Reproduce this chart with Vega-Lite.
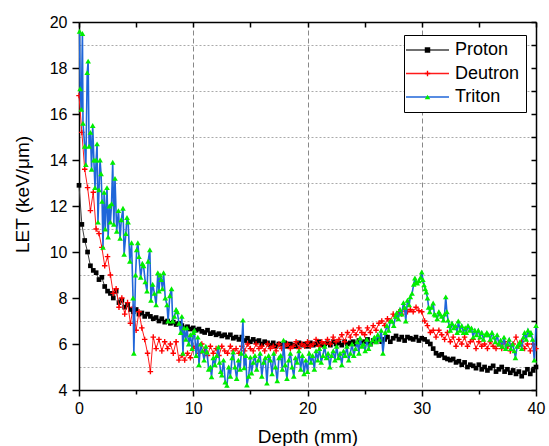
{
"$schema": "https://vega.github.io/schema/vega-lite/v6.json",
"width": 457, "height": 368,
"autosize": {"type": "none"},
"padding": {"left": 79, "top": 22, "right": 13, "bottom": 56},
"background": "white",
"config": {"view": {"stroke": null}, "font": "Liberation Sans"},
"datasets": {
"proton": [
{"d":0,"v":12.9},{"d":0.25,"v":11.2},{"d":0.5,"v":10.5},{"d":0.75,"v":10.0},{"d":1.0,"v":9.4},{"d":1.25,"v":9.2},{"d":1.5,"v":9.1},{"d":1.75,"v":8.8},{"d":2.0,"v":8.9},{"d":2.25,"v":8.5},{"d":2.5,"v":8.3},{"d":2.75,"v":8.2},{"d":3.0,"v":8.0},{"d":3.25,"v":8.3},{"d":3.5,"v":7.8},{"d":3.75,"v":7.9},{"d":4.0,"v":7.6},{"d":4.25,"v":7.7},{"d":4.5,"v":7.5},{"d":4.75,"v":7.4},{"d":5.0,"v":7.5},{"d":5.25,"v":7.3},{"d":5.5,"v":7.35},{"d":5.75,"v":7.2},{"d":6.0,"v":7.3},{"d":6.25,"v":7.2},{"d":6.5,"v":7.1},{"d":6.75,"v":7.15},{"d":7.0,"v":7.0},{"d":7.25,"v":7.1},{"d":7.5,"v":6.95},{"d":7.75,"v":7.0},{"d":8.0,"v":6.9},{"d":8.25,"v":6.95},{"d":8.5,"v":6.85},{"d":8.75,"v":6.9},{"d":9.0,"v":6.8},{"d":9.25,"v":6.7},{"d":9.5,"v":6.75},{"d":9.75,"v":6.65},{"d":10.0,"v":6.7},{"d":10.25,"v":6.6},{"d":10.5,"v":6.65},{"d":10.75,"v":6.55},{"d":11.0,"v":6.5},{"d":11.25,"v":6.6},{"d":11.5,"v":6.45},{"d":11.75,"v":6.5},{"d":12.0,"v":6.4},{"d":12.25,"v":6.45},{"d":12.5,"v":6.35},{"d":12.75,"v":6.4},{"d":13.0,"v":6.3},{"d":13.25,"v":6.4},{"d":13.5,"v":6.25},{"d":13.75,"v":6.3},{"d":14.0,"v":6.2},{"d":14.25,"v":6.3},{"d":14.5,"v":6.15},{"d":14.75,"v":6.25},{"d":15.0,"v":6.1},{"d":15.25,"v":6.2},{"d":15.5,"v":6.1},{"d":15.75,"v":6.15},{"d":16.0,"v":6.0},{"d":16.25,"v":6.1},{"d":16.5,"v":6.05},{"d":16.75,"v":5.95},{"d":17.0,"v":6.05},{"d":17.25,"v":5.9},{"d":17.5,"v":6.0},{"d":17.75,"v":5.95},{"d":18.0,"v":6.05},{"d":18.25,"v":5.9},{"d":18.5,"v":6.0},{"d":18.75,"v":5.95},{"d":19.0,"v":5.9},{"d":19.25,"v":6.05},{"d":19.5,"v":5.95},{"d":19.75,"v":6.0},{"d":20.0,"v":5.9},{"d":20.25,"v":6.05},{"d":20.5,"v":5.95},{"d":20.75,"v":6.0},{"d":21.0,"v":6.1},{"d":21.25,"v":5.95},{"d":21.5,"v":6.0},{"d":21.75,"v":6.05},{"d":22.0,"v":5.95},{"d":22.25,"v":6.1},{"d":22.5,"v":6.0},{"d":22.75,"v":6.05},{"d":23.0,"v":5.95},{"d":23.25,"v":6.1},{"d":23.5,"v":6.0},{"d":23.75,"v":6.05},{"d":24.0,"v":6.1},{"d":24.25,"v":6.0},{"d":24.5,"v":6.15},{"d":24.75,"v":6.05},{"d":25.0,"v":6.1},{"d":25.25,"v":6.2},{"d":25.5,"v":6.0},{"d":25.75,"v":6.15},{"d":26.0,"v":6.1},{"d":26.25,"v":6.25},{"d":26.5,"v":6.1},{"d":26.75,"v":6.2},{"d":27.0,"v":6.3},{"d":27.25,"v":6.1},{"d":27.5,"v":6.25},{"d":27.75,"v":6.35},{"d":28.0,"v":6.2},{"d":28.25,"v":6.3},{"d":28.5,"v":6.15},{"d":28.75,"v":6.3},{"d":29.0,"v":6.25},{"d":29.25,"v":6.2},{"d":29.5,"v":6.3},{"d":29.75,"v":6.15},{"d":30.0,"v":6.25},{"d":30.25,"v":6.2},{"d":30.5,"v":6.1},{"d":30.75,"v":6.0},{"d":31.0,"v":5.8},{"d":31.25,"v":5.6},{"d":31.5,"v":5.5},{"d":31.75,"v":5.55},{"d":32.0,"v":5.4},{"d":32.25,"v":5.35},{"d":32.5,"v":5.3},{"d":32.75,"v":5.35},{"d":33.0,"v":5.2},{"d":33.25,"v":5.25},{"d":33.5,"v":5.1},{"d":33.75,"v":5.2},{"d":34.0,"v":5.0},{"d":34.25,"v":5.1},{"d":34.5,"v":5.05},{"d":34.75,"v":4.95},{"d":35.0,"v":5.1},{"d":35.25,"v":4.9},{"d":35.5,"v":5.0},{"d":35.75,"v":4.85},{"d":36.0,"v":4.95},{"d":36.25,"v":5.05},{"d":36.5,"v":4.8},{"d":36.75,"v":4.9},{"d":37.0,"v":5.0},{"d":37.25,"v":4.8},{"d":37.5,"v":4.9},{"d":37.75,"v":4.75},{"d":38.0,"v":4.85},{"d":38.25,"v":4.7},{"d":38.5,"v":4.8},{"d":38.75,"v":4.6},{"d":39.0,"v":4.75},{"d":39.25,"v":4.9},{"d":39.5,"v":4.7},{"d":39.75,"v":4.85},{"d":40.0,"v":5.0}
],
"deutron": [
{"d":0,"v":16.8},{"d":0.25,"v":15.2},{"d":0.5,"v":13.6},{"d":0.75,"v":12.8},{"d":1.0,"v":11.8},{"d":1.25,"v":12.6},{"d":1.5,"v":11.0},{"d":1.75,"v":10.8},{"d":2.0,"v":10.2},{"d":2.25,"v":9.4},{"d":2.5,"v":9.8},{"d":2.75,"v":9.0},{"d":3.0,"v":8.2},{"d":3.25,"v":8.4},{"d":3.5,"v":7.6},{"d":3.75,"v":8.0},{"d":4.0,"v":7.3},{"d":4.25,"v":7.8},{"d":4.5,"v":6.9},{"d":4.75,"v":7.6},{"d":5.0,"v":6.6},{"d":5.25,"v":7.4},{"d":5.5,"v":6.7},{"d":5.75,"v":6.2},{"d":6.0,"v":5.6},{"d":6.25,"v":4.8},{"d":6.5,"v":6.3},{"d":6.75,"v":5.8},{"d":7.0,"v":6.2},{"d":7.25,"v":5.7},{"d":7.5,"v":6.1},{"d":7.75,"v":5.8},{"d":8.0,"v":6.0},{"d":8.25,"v":5.6},{"d":8.5,"v":6.1},{"d":8.75,"v":5.3},{"d":9.0,"v":5.5},{"d":9.25,"v":5.3},{"d":9.5,"v":5.6},{"d":9.75,"v":5.4},{"d":10.0,"v":5.8},{"d":10.25,"v":5.9},{"d":10.5,"v":5.6},{"d":10.75,"v":6.0},{"d":11.0,"v":5.7},{"d":11.25,"v":5.5},{"d":11.5,"v":5.9},{"d":11.75,"v":5.6},{"d":12.0,"v":5.8},{"d":12.25,"v":5.5},{"d":12.5,"v":5.9},{"d":12.75,"v":5.7},{"d":13.0,"v":5.6},{"d":13.25,"v":5.9},{"d":13.5,"v":5.7},{"d":13.75,"v":5.8},{"d":14.0,"v":5.6},{"d":14.25,"v":5.9},{"d":14.5,"v":5.7},{"d":14.75,"v":6.0},{"d":15.0,"v":5.8},{"d":15.25,"v":5.7},{"d":15.5,"v":6.0},{"d":15.75,"v":5.8},{"d":16.0,"v":5.9},{"d":16.25,"v":5.7},{"d":16.5,"v":6.0},{"d":16.75,"v":5.8},{"d":17.0,"v":5.9},{"d":17.25,"v":5.7},{"d":17.5,"v":6.0},{"d":17.75,"v":5.8},{"d":18.0,"v":5.9},{"d":18.25,"v":6.0},{"d":18.5,"v":5.8},{"d":18.75,"v":5.9},{"d":19.0,"v":6.1},{"d":19.25,"v":5.8},{"d":19.5,"v":6.0},{"d":19.75,"v":5.9},{"d":20.0,"v":6.1},{"d":20.25,"v":5.9},{"d":20.5,"v":6.0},{"d":20.75,"v":6.2},{"d":21.0,"v":5.9},{"d":21.25,"v":6.1},{"d":21.5,"v":6.0},{"d":21.75,"v":6.2},{"d":22.0,"v":6.0},{"d":22.25,"v":6.3},{"d":22.5,"v":6.1},{"d":22.75,"v":6.2},{"d":23.0,"v":6.4},{"d":23.25,"v":6.1},{"d":23.5,"v":6.5},{"d":23.75,"v":6.3},{"d":24.0,"v":6.6},{"d":24.25,"v":6.4},{"d":24.5,"v":6.7},{"d":24.75,"v":6.5},{"d":25.0,"v":6.4},{"d":25.25,"v":6.7},{"d":25.5,"v":6.5},{"d":25.75,"v":6.8},{"d":26.0,"v":6.6},{"d":26.25,"v":6.9},{"d":26.5,"v":7.0},{"d":26.75,"v":6.8},{"d":27.0,"v":7.1},{"d":27.25,"v":7.0},{"d":27.5,"v":7.3},{"d":27.75,"v":7.2},{"d":28.0,"v":7.4},{"d":28.25,"v":7.3},{"d":28.5,"v":7.5},{"d":28.75,"v":7.4},{"d":29.0,"v":7.5},{"d":29.25,"v":7.4},{"d":29.5,"v":7.6},{"d":29.75,"v":7.45},{"d":30.0,"v":7.4},{"d":30.25,"v":7.0},{"d":30.5,"v":6.8},{"d":30.75,"v":6.5},{"d":31.0,"v":6.6},{"d":31.25,"v":6.3},{"d":31.5,"v":6.6},{"d":31.75,"v":6.4},{"d":32.0,"v":6.2},{"d":32.25,"v":6.5},{"d":32.5,"v":6.1},{"d":32.75,"v":6.3},{"d":33.0,"v":5.9},{"d":33.25,"v":6.2},{"d":33.5,"v":6.0},{"d":33.75,"v":6.3},{"d":34.0,"v":5.9},{"d":34.25,"v":6.1},{"d":34.5,"v":6.2},{"d":34.75,"v":5.8},{"d":35.0,"v":6.1},{"d":35.25,"v":5.9},{"d":35.5,"v":6.0},{"d":35.75,"v":5.8},{"d":36.0,"v":6.1},{"d":36.25,"v":5.9},{"d":36.5,"v":5.8},{"d":36.75,"v":6.0},{"d":37.0,"v":5.8},{"d":37.25,"v":6.1},{"d":37.5,"v":5.9},{"d":37.75,"v":5.7},{"d":38.0,"v":6.0},{"d":38.25,"v":6.3},{"d":38.5,"v":5.9},{"d":38.75,"v":6.1},{"d":39.0,"v":5.8},{"d":39.25,"v":6.0},{"d":39.5,"v":5.7},{"d":39.75,"v":6.0},{"d":40.0,"v":5.8}
],
"triton": [
{"d":0.05,"v":19.6},{"d":0.1,"v":17.1},{"d":0.2,"v":16.2},{"d":0.3,"v":19.5},{"d":0.35,"v":15.6},{"d":0.5,"v":14.6},{"d":0.6,"v":13.8},{"d":0.72,"v":17.8},{"d":0.8,"v":18.3},{"d":0.88,"v":14.6},{"d":1.0,"v":15.2},{"d":1.1,"v":13.6},{"d":1.2,"v":15.5},{"d":1.3,"v":14.0},{"d":1.4,"v":12.8},{"d":1.5,"v":14.0},{"d":1.58,"v":14.7},{"d":1.66,"v":11.3},{"d":1.75,"v":12.7},{"d":1.84,"v":14.0},{"d":1.93,"v":13.4},{"d":2.02,"v":12.2},{"d":2.1,"v":10.2},{"d":2.2,"v":12.6},{"d":2.3,"v":11.0},{"d":2.45,"v":12.8},{"d":2.55,"v":10.65},{"d":2.65,"v":12.0},{"d":2.75,"v":11.3},{"d":2.85,"v":12.1},{"d":2.95,"v":13.9},{"d":3.05,"v":11.2},{"d":3.15,"v":13.2},{"d":3.3,"v":10.9},{"d":3.45,"v":11.8},{"d":3.6,"v":10.6},{"d":3.7,"v":11.4},{"d":3.85,"v":11.9},{"d":3.95,"v":9.9},{"d":4.1,"v":10.8},{"d":4.2,"v":11.5},{"d":4.3,"v":11.3},{"d":4.45,"v":9.6},{"d":4.6,"v":10.4},{"d":4.73,"v":8.0},{"d":4.8,"v":5.6},{"d":4.95,"v":9.0},{"d":5.05,"v":10.1},{"d":5.15,"v":10.4},{"d":5.25,"v":9.8},{"d":5.4,"v":8.9},{"d":5.55,"v":9.5},{"d":5.65,"v":9.4},{"d":5.8,"v":8.7},{"d":5.95,"v":8.3},{"d":6.05,"v":9.6},{"d":6.2,"v":10.1},{"d":6.3,"v":7.9},{"d":6.45,"v":8.6},{"d":6.6,"v":8.2},{"d":6.75,"v":7.7},{"d":6.9,"v":9.1},{"d":7.0,"v":8.3},{"d":7.1,"v":9.0},{"d":7.2,"v":8.8},{"d":7.3,"v":8.4},{"d":7.4,"v":9.1},{"d":7.55,"v":8.0},{"d":7.7,"v":7.7},{"d":7.8,"v":7.0},{"d":7.95,"v":8.1},{"d":8.1,"v":8.4},{"d":8.2,"v":7.0},{"d":8.35,"v":7.2},{"d":8.5,"v":7.5},{"d":8.6,"v":7.4},{"d":8.75,"v":6.9},{"d":8.9,"v":6.5},{"d":9.0,"v":7.2},{"d":9.1,"v":5.6},{"d":9.2,"v":6.7},{"d":9.35,"v":6.2},{"d":9.45,"v":6.7},{"d":9.6,"v":6.0},{"d":9.75,"v":6.4},{"d":9.9,"v":5.8},{"d":10.0,"v":6.5},{"d":10.1,"v":6.6},{"d":10.25,"v":5.5},{"d":10.4,"v":6.3},{"d":10.5,"v":5.1},{"d":10.65,"v":6.0},{"d":10.8,"v":5.7},{"d":10.95,"v":5.3},{"d":11.1,"v":5.9},{"d":11.2,"v":5.65},{"d":11.35,"v":4.9},{"d":11.5,"v":5.0},{"d":11.6,"v":4.57},{"d":11.75,"v":5.4},{"d":11.9,"v":5.1},{"d":12.05,"v":5.5},{"d":12.2,"v":5.87},{"d":12.3,"v":5.2},{"d":12.4,"v":4.8},{"d":12.5,"v":4.65},{"d":12.65,"v":5.3},{"d":12.8,"v":4.35},{"d":12.95,"v":4.2},{"d":13.1,"v":5.0},{"d":13.25,"v":4.6},{"d":13.4,"v":5.4},{"d":13.5,"v":5.65},{"d":13.65,"v":5.0},{"d":13.8,"v":4.5},{"d":13.95,"v":5.3},{"d":14.1,"v":4.9},{"d":14.2,"v":5.6},{"d":14.35,"v":7.04},{"d":14.45,"v":4.96},{"d":14.6,"v":5.5},{"d":14.7,"v":4.22},{"d":14.85,"v":4.6},{"d":15.0,"v":5.43},{"d":15.1,"v":4.74},{"d":15.25,"v":5.2},{"d":15.4,"v":5.5},{"d":15.55,"v":4.9},{"d":15.7,"v":5.3},{"d":15.85,"v":5.6},{"d":16.0,"v":4.6},{"d":16.15,"v":5.2},{"d":16.3,"v":5.4},{"d":16.45,"v":4.3},{"d":16.6,"v":5.5},{"d":16.75,"v":5.3},{"d":16.9,"v":4.7},{"d":17.05,"v":5.6},{"d":17.2,"v":5.0},{"d":17.35,"v":4.4},{"d":17.5,"v":5.4},{"d":17.65,"v":5.5},{"d":17.8,"v":4.9},{"d":17.9,"v":6.17},{"d":18.05,"v":5.1},{"d":18.2,"v":4.5},{"d":18.35,"v":5.3},{"d":18.5,"v":5.6},{"d":18.65,"v":5.0},{"d":18.8,"v":4.6},{"d":18.95,"v":5.4},{"d":19.1,"v":5.2},{"d":19.25,"v":5.7},{"d":19.4,"v":4.9},{"d":19.55,"v":5.5},{"d":19.7,"v":4.7},{"d":19.85,"v":5.3},{"d":20.0,"v":4.8},{"d":20.15,"v":5.6},{"d":20.3,"v":5.2},{"d":20.45,"v":5.5},{"d":20.6,"v":4.9},{"d":20.75,"v":5.7},{"d":20.9,"v":5.3},{"d":21.05,"v":5.8},{"d":21.2,"v":5.2},{"d":21.35,"v":5.5},{"d":21.5,"v":5.9},{"d":21.65,"v":5.4},{"d":21.8,"v":5.6},{"d":21.95,"v":5.0},{"d":22.1,"v":5.5},{"d":22.25,"v":5.7},{"d":22.4,"v":5.3},{"d":22.55,"v":5.9},{"d":22.7,"v":5.4},{"d":22.85,"v":5.6},{"d":23.0,"v":5.1},{"d":23.15,"v":5.7},{"d":23.3,"v":5.5},{"d":23.45,"v":5.9},{"d":23.6,"v":5.3},{"d":23.75,"v":5.6},{"d":23.9,"v":6.0},{"d":24.05,"v":5.5},{"d":24.2,"v":5.8},{"d":24.35,"v":6.1},{"d":24.5,"v":5.6},{"d":24.6,"v":6.26},{"d":24.75,"v":5.9},{"d":24.9,"v":6.0},{"d":25.05,"v":5.7},{"d":25.2,"v":6.2},{"d":25.35,"v":5.8},{"d":25.5,"v":6.0},{"d":25.7,"v":6.17},{"d":25.85,"v":6.3},{"d":26.0,"v":6.1},{"d":26.15,"v":6.4},{"d":26.3,"v":6.2},{"d":26.45,"v":6.6},{"d":26.6,"v":5.6},{"d":26.8,"v":6.5},{"d":26.95,"v":6.8},{"d":27.1,"v":6.6},{"d":27.25,"v":7.0},{"d":27.4,"v":7.0},{"d":27.55,"v":6.8},{"d":27.7,"v":7.2},{"d":27.8,"v":7.35},{"d":27.95,"v":7.1},{"d":28.1,"v":7.5},{"d":28.25,"v":7.3},{"d":28.4,"v":7.8},{"d":28.5,"v":7.6},{"d":28.6,"v":7.0},{"d":28.75,"v":7.9},{"d":28.9,"v":7.7},{"d":29.0,"v":8.05},{"d":29.15,"v":8.2},{"d":29.3,"v":8.6},{"d":29.4,"v":8.87},{"d":29.5,"v":8.7},{"d":29.6,"v":8.65},{"d":29.75,"v":8.75},{"d":29.9,"v":8.9},{"d":30.0,"v":9.13},{"d":30.1,"v":8.8},{"d":30.2,"v":8.57},{"d":30.3,"v":8.4},{"d":30.4,"v":8.26},{"d":30.5,"v":8.0},{"d":30.6,"v":7.6},{"d":30.7,"v":7.4},{"d":30.85,"v":7.6},{"d":31.0,"v":7.78},{"d":31.1,"v":7.3},{"d":31.2,"v":7.26},{"d":31.35,"v":7.1},{"d":31.5,"v":7.4},{"d":31.6,"v":7.3},{"d":31.75,"v":7.2},{"d":31.9,"v":7.04},{"d":32.0,"v":7.3},{"d":32.1,"v":8.05},{"d":32.2,"v":7.4},{"d":32.3,"v":7.04},{"d":32.4,"v":6.8},{"d":32.5,"v":6.6},{"d":32.65,"v":6.9},{"d":32.8,"v":6.7},{"d":32.95,"v":6.8},{"d":33.1,"v":6.5},{"d":33.2,"v":7.0},{"d":33.35,"v":6.6},{"d":33.5,"v":6.8},{"d":33.65,"v":6.5},{"d":33.8,"v":6.7},{"d":33.9,"v":6.5},{"d":34.05,"v":6.8},{"d":34.2,"v":6.6},{"d":34.35,"v":6.7},{"d":34.5,"v":6.3},{"d":34.65,"v":6.6},{"d":34.8,"v":6.4},{"d":34.95,"v":6.6},{"d":35.1,"v":6.3},{"d":35.25,"v":6.5},{"d":35.4,"v":6.2},{"d":35.55,"v":6.4},{"d":35.7,"v":6.5},{"d":35.85,"v":6.4},{"d":36.0,"v":6.2},{"d":36.15,"v":6.5},{"d":36.3,"v":6.3},{"d":36.45,"v":6.1},{"d":36.6,"v":6.4},{"d":36.75,"v":6.0},{"d":36.9,"v":6.17},{"d":37.05,"v":5.9},{"d":37.2,"v":6.3},{"d":37.35,"v":5.8},{"d":37.5,"v":6.0},{"d":37.65,"v":6.2},{"d":37.8,"v":5.8},{"d":37.95,"v":6.0},{"d":38.1,"v":5.7},{"d":38.2,"v":5.4},{"d":38.35,"v":5.9},{"d":38.5,"v":6.0},{"d":38.6,"v":6.1},{"d":38.75,"v":5.8},{"d":38.9,"v":6.3},{"d":39.0,"v":6.5},{"d":39.15,"v":6.2},{"d":39.3,"v":6.6},{"d":39.45,"v":6.4},{"d":39.55,"v":6.5},{"d":39.7,"v":6.2},{"d":39.85,"v":5.3},{"d":40.0,"v":6.8}
]
},
"layer": [
{
"data": {"name": "proton"},
"mark": {"type": "line", "strokeWidth": 1},
"encoding": {
"x": {"field": "d", "type": "quantitative", "scale": {"domain": [0, 40], "nice": false, "zero": false},
 "axis": {"orient": "bottom", "values": [0, 10, 20, 30, 40], "title": "Depth (mm)", "grid": false, "domainColor": "black", "domainWidth": 1.5, "tickColor": "black", "tickWidth": 1.5, "tickSize": 6, "labelFont": "Liberation Sans", "labelFontSize": 16, "labelColor": "black", "labelPadding": 4, "labelFlush": false, "labelOverlap": false, "titleFont": "Liberation Sans", "titleFontSize": 19, "titleFontWeight": "normal", "titleColor": "black", "titlePadding": 11}},
"y": {"field": "v", "type": "quantitative", "scale": {"domain": [4, 20], "nice": false, "zero": false},
 "axis": {"orient": "left", "values": [4, 6, 8, 10, 12, 14, 16, 18, 20], "title": "LET (keV/μm)", "grid": false, "domainColor": "black", "domainWidth": 1.5, "tickColor": "black", "tickWidth": 1.5, "tickSize": 7, "labelFont": "Liberation Sans", "labelFontSize": 16, "labelColor": "black", "labelPadding": 5, "labelFlush": false, "labelOverlap": false, "titleFont": "Liberation Sans", "titleFontSize": 19, "titleFontWeight": "normal", "titleColor": "black", "titleX": -57, "titleY": 172, "titleBaseline": "middle", "titleAngle": 270}},
"stroke": {"datum": "Proton", "type": "nominal",
 "scale": {"domain": ["Proton", "Deutron", "Triton", "zz"], "range": ["#404040", "#ff1a1a", "#1f66d9", "#000000"]},
 "legend": {"orient": "none", "legendX": 325, "legendY": 13, "title": null, "padding": 6, "strokeColor": "black", "fillColor": "white", "zindex": 1, "symbolType": "M-4.3,0H4.3", "symbolSize": 100, "symbolStrokeWidth": 1.5, "symbolOffset": 8.5, "labelOffset": 18.5, "labelFont": "Liberation Sans", "labelFontSize": 18, "labelColor": "black", "rowPadding": 5.5, "values": ["Proton", "Deutron", "Triton"], "labelExpr": "datum.label + '\u00a0\u00a0'"}}
}
},
{
"data": {"name": "proton"},
"mark": {"type": "point", "filled": true, "size": 22, "strokeWidth": 0, "opacity": 1},
"encoding": {
"x": {"field": "d", "type": "quantitative", "axis": {"orient": "top", "values": [0, 5, 10, 15, 20, 25, 30, 35, 40], "labels": false, "title": null, "grid": false, "domainColor": "black", "domainWidth": 1.5, "tickColor": "black", "tickWidth": 1.5, "tickSize": -5}},
"y": {"field": "v", "type": "quantitative", "axis": {"orient": "right", "values": [4, 5, 6, 7, 8, 9, 10, 11, 12, 13, 14, 15, 16, 17, 18, 19, 20], "labels": false, "title": null, "grid": false, "domainColor": "black", "domainWidth": 1.5, "tickColor": "black", "tickWidth": 1.5, "tickSize": -5}},
"fill": {"datum": "Proton", "type": "nominal",
 "scale": {"domain": ["Proton", "Deutron", "Triton"], "range": ["#000000", "#ff0000", "#00ee00"]},
 "legend": {"orient": "none", "legendX": 325, "legendY": 13, "title": null, "padding": 6, "zindex": 2, "symbolSize": 30, "symbolStrokeWidth": 0, "symbolOffset": 8.5, "labelOffset": 18.5, "labelFont": "Liberation Sans", "labelFontSize": 18, "labelOpacity": 0, "rowPadding": 5.5, "labelExpr": "datum.label + '\u00a0\u00a0'"}},
"shape": {"datum": "Proton", "type": "nominal",
 "scale": {"domain": ["Proton", "Deutron", "Triton"], "range": ["square", "M-1,-0.25H-0.25V-1H0.25V-0.25H1V0.25H0.25V1H-0.25V0.25H-1Z", "triangle-up"]},
 "legend": {"orient": "none", "legendX": 325, "legendY": 13, "title": null, "padding": 6, "zindex": 2, "symbolSize": 30, "symbolStrokeWidth": 0, "symbolOffset": 8.5, "labelOffset": 18.5, "labelFont": "Liberation Sans", "labelFontSize": 18, "labelOpacity": 0, "rowPadding": 5.5, "labelExpr": "datum.label + '\u00a0\u00a0'"}}
}
},
{
"data": {"name": "deutron"},
"mark": {"type": "line", "strokeWidth": 1},
"encoding": {
"x": {"field": "d", "type": "quantitative", "axis": {"orient": "bottom", "values": [5, 15, 25, 35], "labels": false, "title": null, "grid": false, "domain": false, "tickColor": "black", "tickWidth": 1.5, "tickSize": 4}},
"y": {"field": "v", "type": "quantitative", "axis": {"orient": "left", "values": [5, 7, 9, 11, 13, 15, 17, 19], "labels": false, "title": null, "domain": false, "ticks": false, "grid": true, "gridColor": "#aaaaaa", "gridDash": [2, 2], "gridWidth": 1}},
"stroke": {"datum": "Deutron", "type": "nominal"}
}
},
{
"data": {"name": "deutron"},
"mark": {"type": "point", "filled": true, "size": 30, "strokeWidth": 0, "opacity": 1},
"encoding": {
"x": {"field": "d", "type": "quantitative", "axis": {"orient": "bottom", "values": [10, 20, 30], "labels": false, "title": null, "domain": false, "ticks": false, "grid": true, "gridColor": "#888888", "gridDash": [5, 3], "gridWidth": 1}},
"y": {"field": "v", "type": "quantitative", "axis": null},
"fill": {"datum": "Deutron", "type": "nominal"},
"shape": {"datum": "Deutron", "type": "nominal"}
}
},
{
"data": {"name": "triton"},
"mark": {"type": "line", "strokeWidth": 1.6},
"encoding": {
"x": {"field": "d", "type": "quantitative", "axis": null},
"y": {"field": "v", "type": "quantitative", "axis": null},
"stroke": {"datum": "Triton", "type": "nominal"}
}
},
{
"data": {"name": "triton"},
"mark": {"type": "point", "filled": true, "size": 32, "strokeWidth": 0, "opacity": 1},
"encoding": {
"x": {"field": "d", "type": "quantitative", "axis": null},
"y": {"field": "v", "type": "quantitative", "axis": null},
"fill": {"datum": "Triton", "type": "nominal"},
"shape": {"datum": "Triton", "type": "nominal"}
}
}
],
"resolve": {"axis": {"x": "independent", "y": "independent"}}
}
